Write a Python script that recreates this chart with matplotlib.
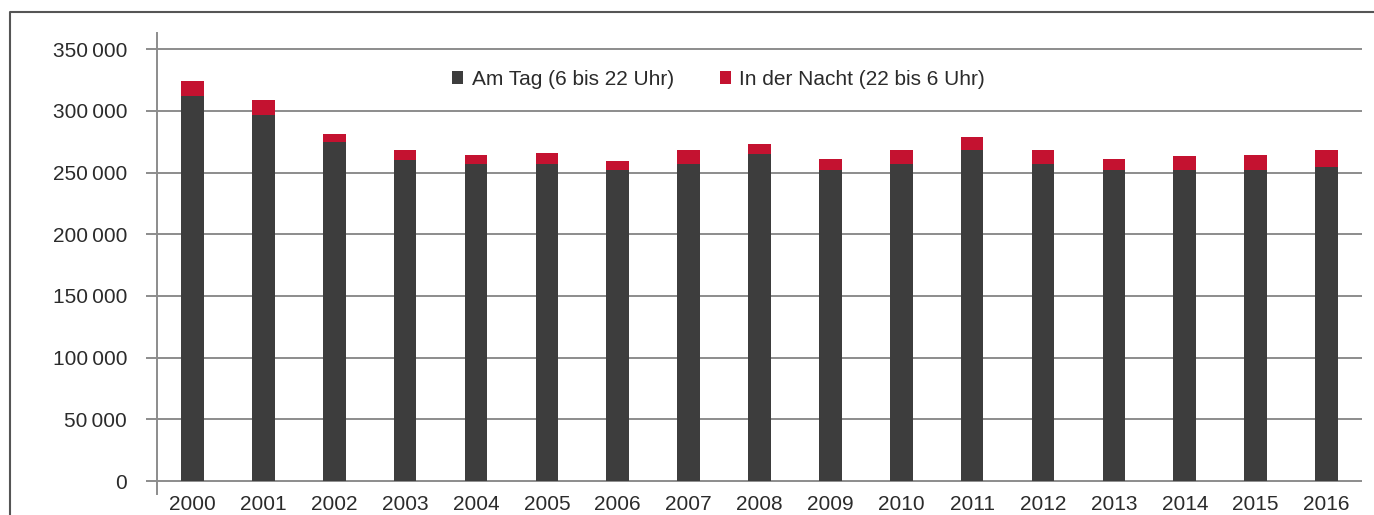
import matplotlib
matplotlib.use('Agg')
import matplotlib.pyplot as plt
from matplotlib.lines import Line2D
from matplotlib.patches import Patch
import numpy as np

plt.rcParams['font.family'] = ['Liberation Sans', 'DejaVu Sans']

years = ['2000', '2001', '2002', '2003', '2004', '2005', '2006', '2007', '2008',
         '2009', '2010', '2011', '2012', '2013', '2014', '2015', '2016']
day = [312200, 297000, 274400, 260400, 256600, 257100, 251700, 256600, 265200,
       251700, 256600, 267900, 256800, 251700, 251700, 251700, 254100]
night = [11600, 11400, 6500, 7500, 7300, 8400, 7300, 11300, 7600,
         8900, 11300, 10500, 11100, 8900, 11400, 12200, 13800]
yticks = [0, 50000, 100000, 150000, 200000, 250000, 300000, 350000]
ytick_labels = ['0', '50\u2009000', '100\u2009000', '150\u2009000', '200\u2009000',
                '250\u2009000', '300\u2009000', '350\u2009000']

dark = '#3d3d3d'
red = '#c41230'
grid = '#8c8c8c'
txt = '#2b2b2b'

fig = plt.figure(figsize=(13.74, 5.15), dpi=100)
ax = fig.add_axes([157 / 1374, 21 / 515, (1362 - 157) / 1374, (494 - 32.7) / 515])

x = np.arange(len(years))
ax.bar(x, day, width=0.32, color=dark, zorder=3)
ax.bar(x, night, width=0.32, bottom=day, color=red, zorder=3)

ax.set_xlim(-0.5, len(years) - 0.5)
ax.set_ylim(-10500, 363300)
ax.set_yticks(yticks)
ax.set_yticklabels(ytick_labels)
ax.set_xticks(x)
ax.set_xticklabels(years)
ax.yaxis.grid(True, color=grid, linewidth=1.4, zorder=0)
ax.tick_params(axis='y', length=8, width=1.4, color=grid, pad=13.5, labelsize=15, labelcolor=txt)
ax.tick_params(axis='x', length=0, pad=1, labelsize=15, labelcolor=txt)
for s in ['top', 'right', 'bottom']:
    ax.spines[s].set_visible(False)
ax.spines['left'].set_color(grid)
ax.spines['left'].set_linewidth(1.4)

handles = [Patch(facecolor=dark, edgecolor='none'), Patch(facecolor=red, edgecolor='none')]
ax.legend(handles, ['Am Tag (6 bis 22 Uhr)', 'In der Nacht (22 bis 6 Uhr)'],
          loc='upper center', bbox_to_anchor=(0.466, 0.96), ncol=2, frameon=False,
          fontsize=15, handlelength=0.55, handleheight=0.55, handletextpad=0.4,
          columnspacing=2.2, labelcolor=txt)

# outer frame
fig.add_artist(Line2D([10 / 1374, 10 / 1374, 1.0], [0, 1 - 12 / 515, 1 - 12 / 515],
                      transform=fig.transFigure, color='#555555', linewidth=1.5))

fig.savefig('out.png', dpi=100)
